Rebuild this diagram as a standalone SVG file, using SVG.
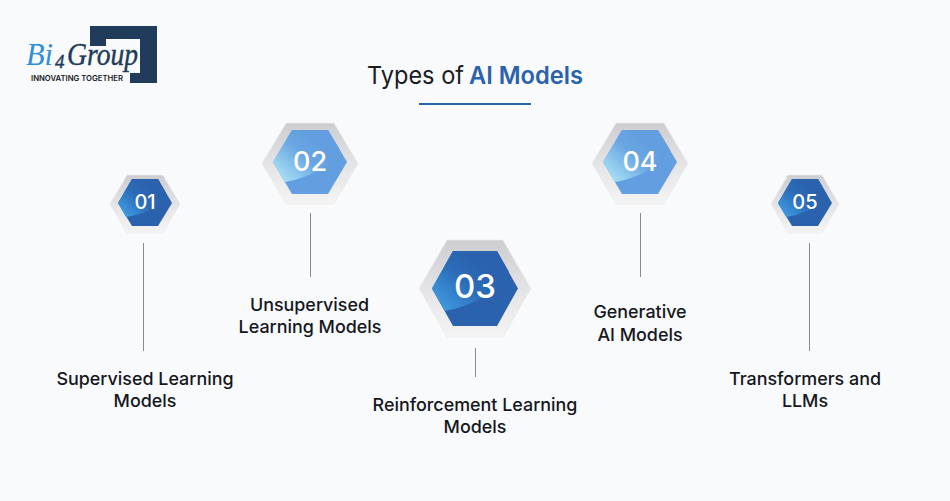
<svg xmlns="http://www.w3.org/2000/svg" width="950" height="501" viewBox="0 0 950 501">
<style>
.lbl{font-family:"Inter","Liberation Sans",sans-serif;font-weight:500;font-size:17.9px;fill:#15171c;text-anchor:middle}
.num{font-family:"Inter","Liberation Sans",sans-serif;fill:#fff;text-anchor:middle;font-weight:500}
.ln{stroke:#8a8a8a;stroke-width:1;fill:none}
.rim{fill:url(#rim);stroke:#ececee;stroke-width:0.8}
</style>
<defs>
<linearGradient id="rim" x1="0" y1="0" x2="0" y2="1"><stop offset="0" stop-color="#cdcdd1"/><stop offset="0.5" stop-color="#e4e4e6"/><stop offset="1" stop-color="#f4f4f4"/></linearGradient>
<linearGradient id="dk" x1="0" y1="0.8" x2="0.65" y2="0.25"><stop offset="0" stop-color="#3f9be0"/><stop offset="0.6" stop-color="#2b6cb8"/><stop offset="1" stop-color="#2a62ad"/></linearGradient>
<linearGradient id="lt" x1="0" y1="0.8" x2="0.65" y2="0.25"><stop offset="0" stop-color="#a8e0f4"/><stop offset="0.65" stop-color="#69a6e2"/><stop offset="1" stop-color="#639fe0"/></linearGradient>
</defs>
<rect width="950" height="501" fill="#f9fafc"/>
<g id="logo">
<path d="M90 26H157V83H130V73H140V39H106V46H90Z" fill="#203c5a"/>
<text x="26" y="65" font-family="Liberation Serif,serif" font-style="italic" font-size="31" fill="#2f8fdc" textLength="27" lengthAdjust="spacingAndGlyphs">Bi</text>
<text x="55" y="68" font-family="Liberation Serif,serif" font-style="italic" font-size="19" fill="#203c5a" stroke="#203c5a" stroke-width="0.4">4</text>
<text x="67" y="65" font-family="Liberation Serif,serif" font-style="italic" font-size="32" fill="#203c5a" stroke="#203c5a" stroke-width="0.4" textLength="71" lengthAdjust="spacingAndGlyphs">Group</text>
<text x="31" y="80.500" font-family="Inter,Liberation Sans,sans-serif" font-size="7.500" font-weight="600" fill="#15171c" textLength="92" lengthAdjust="spacingAndGlyphs">INNOVATING TOGETHER</text>
</g>
<g id="title">
<text x="367" y="84" font-family="Inter,Liberation Sans,sans-serif" font-size="24.500" fill="#1a1c22" textLength="97" lengthAdjust="spacingAndGlyphs">Types of</text>
<text x="469" y="84" font-family="Inter,Liberation Sans,sans-serif" font-size="24.500" font-weight="600" fill="#2a62ad" textLength="114" lengthAdjust="spacingAndGlyphs">AI Models</text>
<rect x="419" y="103" width="112" height="2" fill="#2a62ad"/>
</g>
<g id="connectors">
<line class="ln" x1="143.500" y1="243" x2="143.500" y2="351"/>
<line class="ln" x1="310.500" y1="213" x2="310.500" y2="277"/>
<line class="ln" x1="475.500" y1="348" x2="475.500" y2="377"/>
<line class="ln" x1="640.500" y1="213" x2="640.500" y2="277"/>
<line class="ln" x1="809.500" y1="243" x2="809.500" y2="351"/>
</g>
<g id="node-01">
<path class="rim" d="M110 204L127 175H163L180 204L163 233H127Z"/>
<path d="M118 203L132 179H158L172 203L158 226H132Z" fill="#2a62ad"/>
<path d="M118 203L132 179H158L167 195C158 207 145 214 126 217Z" fill="url(#dk)"/>
<text class="num" x="145" y="209" font-size="20">01</text>
<text class="lbl" x="145" y="385">Supervised Learning</text>
<text class="lbl" x="145" y="407">Models</text>
</g>
<g id="node-02">
<path class="rim" d="M262 163.500L286 123H334L358 163.500L334 204H286Z"/>
<path d="M273 162L292 130H328L347 162L328 194H292Z" fill="#639fe0"/>
<path d="M273 162L292 130H328L340 150C328 168 308 178 285 182Z" fill="url(#lt)"/>
<text class="num" x="310" y="171" font-size="27">02</text>
<text class="lbl" x="309.500" y="311">Unsupervised</text>
<text class="lbl" x="310" y="333">Learning Models</text>
</g>
<g id="node-03">
<path class="rim" d="M419 288.500L447 240H503L531 288.500L503 337H447Z"/>
<path d="M432 288.500L453 251H497L518 288.500L497 326H453Z" fill="#2a62ad"/>
<path d="M432 288.500L453 251H497L509 272C498 292 475 305 445 311Z" fill="url(#dk)"/>
<text class="num" x="475" y="298" font-size="33">03</text>
<text class="lbl" x="475" y="411">Reinforcement Learning</text>
<text class="lbl" x="475" y="433">Models</text>
</g>
<g id="node-04">
<path class="rim" d="M592 163.500L616 123H664L688 163.500L664 204H616Z"/>
<path d="M603 162L622 130H658L677 162L658 194H622Z" fill="#639fe0"/>
<path d="M603 162L622 130H658L670 150C658 168 638 178 615 182Z" fill="url(#lt)"/>
<text class="num" x="640" y="171" font-size="27">04</text>
<text class="lbl" x="640" y="318">Generative</text>
<text class="lbl" x="640" y="341">AI Models</text>
</g>
<g id="node-05">
<path class="rim" d="M771 204L788 175H822L839 204L822 233H788Z"/>
<path d="M778 203L792 179H818L832 203L818 226H792Z" fill="#2a62ad"/>
<path d="M778 203L792 179H818L827 195C818 207 805 214 786 217Z" fill="url(#dk)"/>
<text class="num" x="805" y="209" font-size="20">05</text>
<text class="lbl" x="805" y="385">Transformers and</text>
<text class="lbl" x="805" y="407">LLMs</text>
</g>
</svg>
